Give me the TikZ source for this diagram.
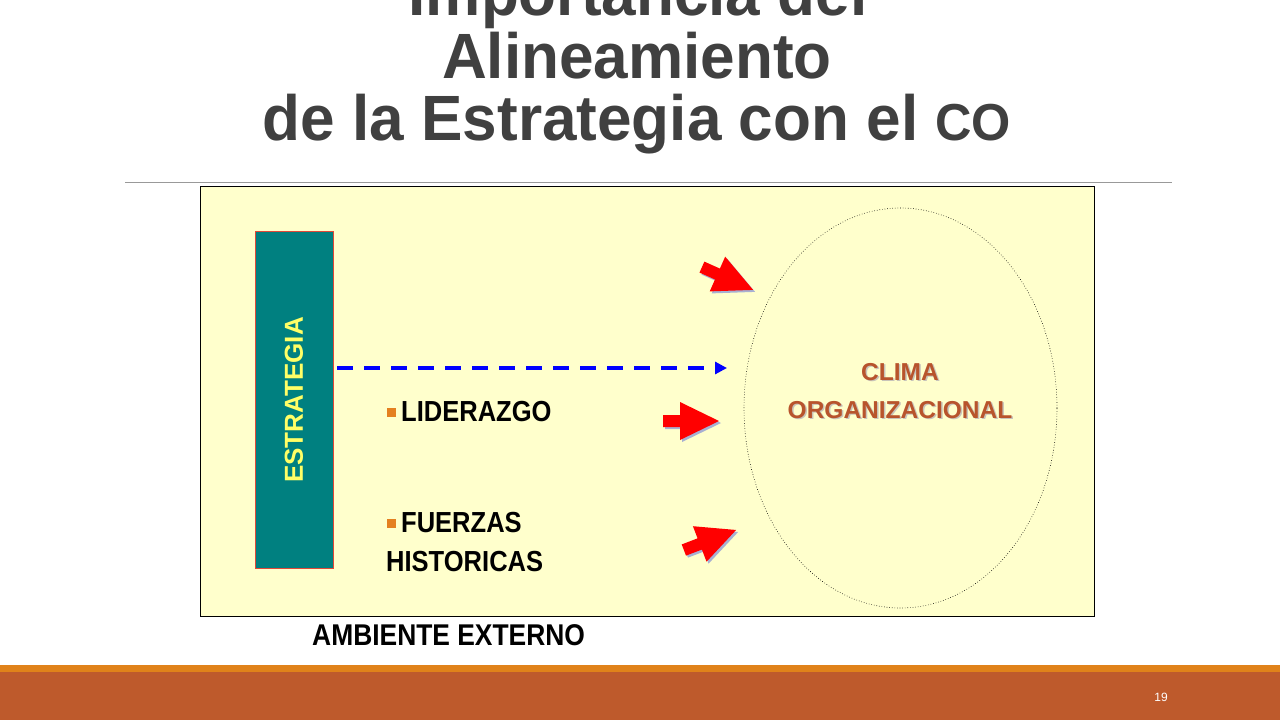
\documentclass[tikz,border=0pt]{standalone}
\usepackage{fontspec}
\setmainfont{Liberation Sans}
\newfontfamily\narrowsf[FakeStretch=0.88]{Liberation Sans}
\newfontfamily\titlesf[FakeStretch=0.97]{Liberation Sans}
\usetikzlibrary{arrows.meta,shapes.geometric}

\tikzset{
  blockarrow/.pic={
    \fill[pic actions] (-28,-6) -- (-11,-6) -- (-11,-19) -- (28,0) -- (-11,19) -- (-11,6) -- (-28,6) -- cycle;
  },
  titletext/.style={font=\titlesf\bfseries\fontsize{64}{70}\selectfont, text=titlegray, inner sep=0, anchor=base},
  itemtext/.style={font=\narrowsf\bfseries\fontsize{29}{34}\selectfont, inner sep=0, anchor=base west},
  climatext/.style={font=\bfseries\fontsize{24.5}{28}\selectfont, inner sep=0, anchor=base},
}

\newcommand{\itembullet}{\textcolor{bulletorange}{\rule[4pt]{9pt}{9pt}}\hspace{5pt}}

\begin{document}
\begin{tikzpicture}[x=1pt,y=-1pt]
            \definecolor{titlegray}{RGB}{64, 64, 64}
            \definecolor{boxyellow}{RGB}{255, 255, 204}
            \definecolor{stratteal}{RGB}{0, 128, 128}
            \definecolor{strattext}{RGB}{255, 255, 102}
            \definecolor{bulletorange}{RGB}{228, 128, 32}
            \definecolor{climabrown}{RGB}{184, 84, 44}
            \definecolor{shadowgray}{RGB}{200, 196, 186}
            \definecolor{arrowshadow}{RGB}{168, 176, 210}
            \definecolor{barorange}{RGB}{224, 130, 26}
            \definecolor{barbrown}{RGB}{190, 90, 44}

            \useasboundingbox (0,0) rectangle (1280,720);
            \clip (0,0) rectangle (1280,720);
            \fill[white] (0,0) rectangle (1280,720);

            % title
            \node[titletext] (titlea) at (638,16) {Importancia del};
            \node[titletext] (titleb) at (637,78) {Alineamiento};
            \node[titletext] (titlec) at (637,140) {de la Estrategia con el {\fontsize{52}{60}\selectfont CO}};
            \draw[color=black!40, line width=0.8pt] (125,182) -- (1172,182);

            % diagram area
            \filldraw[fill=boxyellow, draw=black, line width=0.8pt] (200,186) rectangle (1094,616);

            \node[draw={rgb,255:red,224;green,72;blue,56}, fill=stratteal, line width=0.8pt, inner sep=0,
                  minimum width=78pt, minimum height=337pt] (estrategia) at (294,399.5) {};
            \node[rotate=90, text=strattext, font=\bfseries\fontsize{26}{30}\selectfont, inner sep=0] (estrategialabel) at (294,400) {ESTRATEGIA};

            \node[ellipse, draw, dotted, line width=0.6pt, inner sep=0,
                  minimum width=313pt, minimum height=400pt] (clima) at (900.5,408) {};
            \node[climatext, text=shadowgray] at (901.5,381.5) {CLIMA};
            \node[climatext, text=climabrown] (climaa) at (900,380) {CLIMA};
            \node[climatext, text=shadowgray] at (901.5,419.5) {ORGANIZACIONAL};
            \node[climatext, text=climabrown] (climab) at (900,418) {ORGANIZACIONAL};

            \coordinate (dashend) at (727,368);
            \draw[color=blue, line width=3.5pt, dash pattern=on 16pt off 11pt, shorten <=4pt,
                  -{Triangle[length=12pt,width=12pt]}] (estrategia.east |- dashend) -- (dashend);

            \node[itemtext] (liderazgo) at (387,421) {\itembullet LIDERAZGO};
            \node[itemtext] (fuerzas) at (387,532) {\itembullet FUERZAS};
            \node[itemtext] (historicas) at (386,571) {HISTORICAS};
            \node[itemtext, font=\narrowsf\bfseries\fontsize{30}{34}\selectfont] (ambiente) at (312,645) {AMBIENTE EXTERNO};

            % red block arrows
            \pic[fill=arrowshadow, rotate=-24] at (729.5,280.5) {blockarrow};
            \pic[fill=red, rotate=-24] at (727.5,278.5) {blockarrow};
            \pic[fill=arrowshadow] at (693,423) {blockarrow};
            \pic[fill=red] at (691,421) {blockarrow};
            \pic[fill=arrowshadow, rotate=21] at (712,542) {blockarrow};
            \pic[fill=red, rotate=21] at (710,540) {blockarrow};

            % footer
            \fill[barorange] (0,665) rectangle (1280,672);
            \fill[barbrown] (0,672) rectangle (1280,720);
            \node[font=\fontsize{12}{14}\selectfont, text=white] (pagenum) at (1161,697) {19};
        \end{tikzpicture}
\end{document}
